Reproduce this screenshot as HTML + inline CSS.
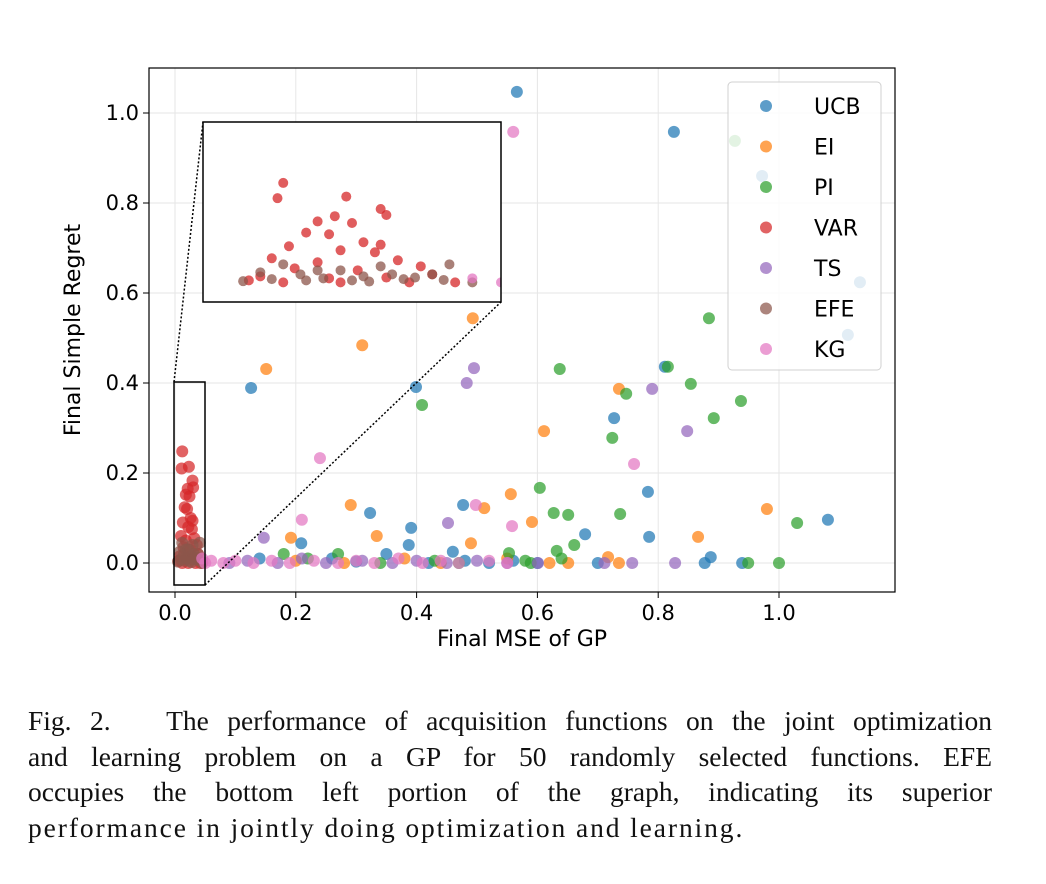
<!DOCTYPE html>
<html><head><meta charset="utf-8">
<style>
body{margin:0;background:#fff;width:1046px;height:884px;overflow:hidden}
#cap{position:absolute;left:28px;top:703px;width:964px;font-family:"Liberation Serif",serif;font-size:27.5px;line-height:35.5px;color:#111}
#cap div{text-align:justify;text-align-last:justify;white-space:nowrap}
#cap div.last{text-align:left;text-align-last:left;letter-spacing:1.9px}
svg text{font-family:"DejaVu Sans","Liberation Sans",sans-serif}
</style></head><body>
<svg id="chart" width="1046" height="700" style="position:absolute;left:0;top:0"></svg>
<div id="cap">
<div style="white-space:normal">Fig. 2.&nbsp;&nbsp;&nbsp;The performance of acquisition functions on the joint optimization</div>
<div style="white-space:normal">and learning problem on a GP for 50 randomly selected functions. EFE</div>
<div style="white-space:normal">occupies the bottom left portion of the graph, indicating its superior</div>
<div class="last">performance in jointly doing optimization and learning.</div>
</div>
<script>
const seriesNames=["UCB","EI","PI","VAR","TS","EFE","KG"];
const seriesColors=["#1f77b4","#ff7f0e","#2ca02c","#d62728","#9467bd","#8c564b","#e377c2"];
const xTicks=[0,0.2,0.4,0.6,0.8,1.0];
const yTicks=[0,0.2,0.4,0.6,0.8,1.0];
const ucb=[[0.566,1.047],[0.826,0.958],[0.972,0.86],[1.134,0.624],[1.114,0.507],[0.126,0.389],[0.399,0.391],[0.811,0.436],[0.727,0.322],[0.783,0.158],[0.785,0.058],[1.081,0.096],[0.477,0.129],[0.323,0.111],[0.391,0.078],[0.387,0.04],[0.209,0.044],[0.679,0.064],[0.887,0.013],[0.877,0],[0.939,0],[0.26,0.01],[0.3,0.003],[0.35,0.02],[0.42,0],[0.46,0.025],[0.52,0],[0.56,0.005],[0.6,0],[0.7,0],[0.14,0.01],[0.48,0.005]];
const ei=[[0.151,0.431],[0.31,0.484],[0.493,0.544],[0.611,0.293],[0.735,0.387],[0.291,0.129],[0.556,0.153],[0.591,0.091],[0.98,0.12],[0.866,0.058],[0.512,0.122],[0.49,0.044],[0.192,0.056],[0.334,0.06],[0.717,0.013],[0.735,0],[0.651,0],[0.2,0.005],[0.28,0],[0.38,0.01],[0.44,0],[0.55,0.01],[0.62,0]];
const pi=[[0.927,0.938],[0.884,0.544],[0.637,0.431],[0.747,0.376],[0.854,0.398],[0.937,0.36],[0.892,0.322],[0.816,0.436],[0.724,0.278],[0.409,0.351],[0.604,0.167],[0.627,0.111],[0.651,0.107],[0.737,0.109],[1.03,0.089],[0.661,0.04],[0.632,0.027],[0.949,0],[1.0,0],[0.589,0],[0.553,0.022],[0.18,0.02],[0.22,0.01],[0.27,0.02],[0.34,0],[0.43,0.005],[0.47,0],[0.58,0.005],[0.64,0.01]];
const vr=[[0.012,0.248],[0.011,0.21],[0.023,0.214],[0.018,0.152],[0.024,0.148],[0.021,0.165],[0.029,0.183],[0.030,0.168],[0.020,0.12],[0.016,0.124],[0.013,0.09],[0.026,0.1],[0.029,0.094],[0.022,0.08],[0.028,0.075],[0.010,0.06],[0.018,0.05],[0.032,0.055],[0.014,0.035],[0.025,0.03],[0.036,0.04],[0.008,0.015],[0.02,0.01],[0.03,0.012],[0.038,0.02],[0.012,0],[0.022,0],[0.034,0],[0.042,0],[0.006,0.005]];
const ts=[[0.495,0.433],[0.483,0.4],[0.79,0.387],[0.848,0.293],[0.452,0.089],[0.147,0.056],[0.828,0],[0.757,0],[0.711,0],[0.601,0],[0.55,0],[0.5,0.005],[0.45,0],[0.4,0.005],[0.36,0],[0.31,0.005],[0.25,0],[0.21,0.01],[0.17,0],[0.12,0.005],[0.09,0]];
const efe=[[0.008,0.025],[0.012,0.045],[0.015,0.02],[0.019,0.01],[0.022,0.03],[0.026,0.015],[0.029,0.04],[0.033,0.008],[0.038,0.02],[0.041,0.045],[0.045,0],[0.016,0.005],[0.024,0.005],[0.031,0.02],[0.035,0.012],[0.005,0.003],[0.01,0.008],[0.018,0.03],[0.027,0.002],[0.040,0.006]];
const kg=[[0.56,0.958],[0.24,0.233],[0.76,0.22],[0.21,0.096],[0.498,0.129],[0.558,0.082],[0.045,0.01],[0.05,0],[0.06,0.005],[0.08,0],[0.1,0.005],[0.13,0],[0.16,0.005],[0.19,0],[0.23,0.005],[0.27,0],[0.3,0.005],[0.33,0],[0.37,0.01],[0.41,0],[0.44,0.005],[0.47,0],[0.52,0.005],[0.55,0]];
const allSeries=[ucb,ei,pi,vr,ts,efe,kg];

const NS="http://www.w3.org/2000/svg";
const svg=document.getElementById('chart');
function mk(t,a,p){const e=document.createElementNS(NS,t);for(const k in a)e.setAttribute(k,a[k]);(p||svg).appendChild(e);return e;}
const X0=149,X1=895,Y0=68,Y1=592;
const xs=v=>175+v*604, ys=v=>563-v*450;
const gridG=mk('g',{});


xTicks.forEach(t=>{mk('line',{x1:xs(t),x2:xs(t),y1:Y0,y2:Y1,stroke:'#e6e6e6','stroke-width':1},gridG);
 mk('line',{x1:xs(t),x2:xs(t),y1:Y1,y2:Y1+6,stroke:'#000'});
 const tx=mk('text',{x:xs(t),y:Y1+28,'font-size':21,'text-anchor':'middle'});tx.textContent=t.toFixed(1);
 
 });
yTicks.forEach(t=>{mk('line',{y1:ys(t),y2:ys(t),x1:X0,x2:X1,stroke:'#e6e6e6','stroke-width':1},gridG);
 mk('line',{y1:ys(t),y2:ys(t),x1:X0-6,x2:X0,stroke:'#000'});
 const tx=mk('text',{x:X0-10,y:ys(t)+7,'font-size':21,'text-anchor':'end'});tx.textContent=t.toFixed(1);
 
 });
mk('defs',{}).innerHTML='<clipPath id="pc"><rect x="149" y="68" width="746" height="524"/></clipPath><clipPath id="ic"><rect x="203" y="122" width="298" height="180"/></clipPath>';
const pg=mk('g',{'clip-path':'url(#pc)'});
allSeries.forEach((s,i)=>s.forEach(d=>{const c=mk('circle',{cx:xs(d[0]),cy:ys(d[1]),r:6,fill:seriesColors[i],'fill-opacity':0.72},pg);
 
 }));
const zr=mk('rect',{x:174,y:382,width:31,height:203,fill:'none',stroke:'#000','stroke-width':1.5});


mk('line',{x1:174,y1:382,x2:203,y2:122,stroke:'#000','stroke-dasharray':'2,2','stroke-width':1.5});
mk('line',{x1:205,y1:585,x2:501,y2:302,stroke:'#000','stroke-dasharray':'2,2','stroke-width':1.5});
const ig=mk('g',{});


mk('rect',{x:203,y:122,width:298,height:180,fill:'#fff'},ig);
const ix=v=>203+(v+0.002)/0.052*298, iy=v=>122+(0.4-v)/0.449*180;
const ic=mk('g',{'clip-path':'url(#ic)'},ig);
allSeries.forEach((s,i)=>s.forEach(d=>{if(d[0]<=0.055&&d[1]<=0.4){const c=mk('circle',{cx:ix(d[0]),cy:iy(d[1]),r:5,fill:seriesColors[i],'fill-opacity':0.75},ic);
 
 }}));
mk('rect',{x:203,y:122,width:298,height:180,fill:'none',stroke:'#000','stroke-width':1.5},ig);
mk('rect',{x:X0,y:Y0,width:X1-X0,height:Y1-Y0,fill:'none',stroke:'#000','stroke-width':1.2});
const lg=mk('g',{});


mk('rect',{x:728,y:82,width:153,height:288,rx:4,fill:'#fff','fill-opacity':0.82,stroke:'#d0d0d0'},lg);
seriesNames.forEach((n,i)=>{const y=106+i*40.5;
 const e=mk('g',{},lg);
 
 
 mk('circle',{cx:766,cy:y,r:6,fill:seriesColors[i],'fill-opacity':0.72},e);
 const t=mk('text',{x:814,y:y+8,'font-size':22},e);t.textContent=n;});
const xl=mk('text',{x:522,y:646,'font-size':22,'text-anchor':'middle'});xl.textContent='Final MSE of GP';


const yl=mk('text',{x:0,y:0,'font-size':22,'text-anchor':'middle',transform:'translate(80,330) rotate(-90)'});yl.textContent='Final Simple Regret';


</script>
</body></html>
